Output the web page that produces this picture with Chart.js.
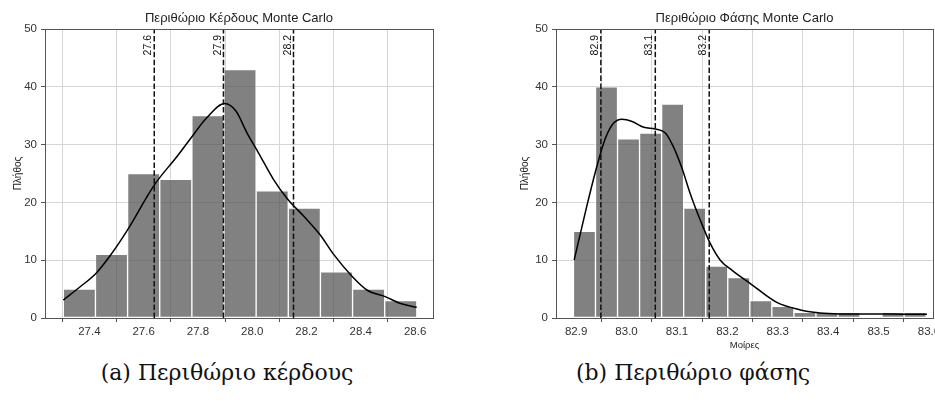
<!DOCTYPE html>
<html>
<head>
<meta charset="utf-8">
<script src="https://cdn.jsdelivr.net/npm/chart.js@4"></script>
<style>
  body { margin: 0; background: #fff; overflow: hidden; }
  #wrap { position: relative; width: 935px; height: 406px; overflow: hidden; }
  canvas { position: absolute; top: 0; }
  .caption { position: absolute; top: 361px; width: 400px; text-align: center;
             font-family: "DejaVu Serif", "Liberation Serif", serif; font-size: 22px; line-height: 24px; color: #111; }
</style>
</head>
<body>
<div id="wrap">
  <canvas id="gainChart" width="470" height="356" style="left:0"></canvas>
  <canvas id="phaseChart" width="490" height="356" style="left:470px"></canvas>
  <div class="caption" style="left:27px">(a) Περιθώριο κέρδους</div>
  <div class="caption" style="left:493px">(b) Περιθώριο φάσης</div>
</div>
<script>
// Περιθώριο κέρδους: ιστόγραμμα 200 δειγμάτων
const gainBinStart = 27.304;
const gainBinWidth = 0.1184;
const gainCounts = [5, 11, 25, 24, 35, 43, 22, 19, 8, 5, 3];
const gainKdeX = [27.304, 27.366, 27.424, 27.483, 27.54, 27.639, 27.722, 27.78, 27.83, 27.898, 27.94, 27.981,
                  28.024, 28.078, 28.13, 28.19, 28.25, 28.30, 28.37, 28.424, 28.49, 28.547, 28.606];
const gainKdeY = [3.1, 5.4, 7.7, 11.2, 15.2, 23.0, 27.9, 31.5, 34.5, 37.1, 35.8, 32.0,
                  28.5, 24.0, 20.6, 17.6, 14.4, 11.0, 7.1, 4.8, 3.7, 2.5, 1.85];
const gainMarkers = [27.639, 27.894, 28.152];
const gainTicks = [27.4, 27.6, 27.8, 28.0, 28.2, 28.4, 28.6];

// Περιθώριο φάσης
const phaseBinStart = 82.8946;
const phaseBinWidth = 0.04374;
const phaseCounts = [15, 40, 31, 32, 37, 19, 9, 7, 3, 2, 1, 1, 1, 0, 1, 1];
const phaseKdeX = [82.896, 82.921, 82.941, 82.958, 82.974, 82.991, 83.011, 83.034, 83.057, 83.077, 83.093,
                   83.110, 83.126, 83.146, 83.166, 83.186, 83.21, 83.245, 83.298, 83.345, 83.371, 83.40,
                   83.45, 83.50, 83.55, 83.596];
const phaseKdeY = [10.0, 19.3, 26.2, 31.1, 33.7, 34.4, 34.0, 33.0, 32.7, 32.0, 29.6,
                   25.9, 21.6, 17.0, 12.9, 10.0, 8.2, 6.0, 2.7, 1.4, 1.0, 0.8,
                   0.7, 0.7, 0.65, 0.65];
const phaseMarkers = [82.949, 83.057, 83.164];
const phaseTicks = [82.9, 83.0, 83.1, 83.2, 83.3, 83.4, 83.5, 83.6];

const countTicks = [0, 10, 20, 30, 40, 50];

const sans = '"Liberation Sans", Arial, sans-serif';
const tickFont = { family: sans, size: 11.5 };

// πλαίσιο γύρω από την περιοχή σχεδίασης
const framePlugin = {
  id: 'frame',
  afterDatasetsDraw(chart) {
    const { ctx, chartArea: a } = chart;
    ctx.save();
    ctx.strokeStyle = '#555';
    ctx.lineWidth = 1;
    ctx.strokeRect(Math.round(a.left) + 0.5, Math.round(a.top) + 0.5,
                   Math.round(a.right - a.left), Math.round(a.bottom - a.top));
    ctx.restore();
  }
};

// ετικέτες τιμών πάνω στις διακεκομμένες γραμμές
const markerLabels = {
  id: 'markerLabels',
  afterDatasetsDraw(chart, args, opts) {
    const { ctx, scales: { x }, chartArea } = chart;
    ctx.save();
    ctx.font = '10.5px ' + sans;
    ctx.fillStyle = '#111';
    ctx.textAlign = 'right';
    ctx.textBaseline = 'bottom';
    opts.values.forEach(v => {
      const px = x.getPixelForValue(v);
      ctx.save();
      ctx.translate(px - 0.5, chartArea.top + 6);
      ctx.rotate(-Math.PI / 2);
      ctx.fillText(v.toFixed(1), 0, 0);
      ctx.restore();
    });
    ctx.restore();
  }
};

function histChart(id, cfg) {
  const bars = cfg.counts.map((c, i) => ({ x: cfg.binStart + (i + 0.5) * cfg.binWidth, y: c }));
  const kde = cfg.kdeX.map((x, i) => ({ x: x, y: cfg.kdeY[i] }));
  const datasets = [
    {
      type: 'bar',
      data: bars,
      backgroundColor: 'rgba(80, 80, 80, 0.72)',
      borderColor: 'rgba(255, 255, 255, 0.8)',
      borderWidth: 1,
      borderSkipped: false,
      barPercentage: 1,
      categoryPercentage: 1,
      order: 3
    },
    {
      type: 'line',
      data: kde,
      borderColor: '#000',
      borderWidth: 1.5,
      pointRadius: 0,
      cubicInterpolationMode: 'monotone',
      fill: false,
      order: 2
    }
  ];
  cfg.markers.forEach(m => {
    datasets.push({
      type: 'line',
      data: [{ x: m, y: 0 }, { x: m, y: 50 }],
      borderColor: '#111',
      borderWidth: 1.5,
      borderDash: [5.5, 2.4],
      pointRadius: 0,
      order: 1
    });
  });

  return new Chart(document.getElementById(id), {
    type: 'bar',
    data: { datasets: datasets },
    options: {
      responsive: false,
      animation: false,
      devicePixelRatio: 1,
      layout: { padding: { left: 0, right: cfg.rightPad, top: 0, bottom: 0 } },
      plugins: {
        legend: { display: false },
        tooltip: { enabled: false },
        title: {
          display: true,
          text: cfg.title,
          fullSize: false,
          color: '#222',
          font: { family: sans, size: 13, weight: 'normal', lineHeight: 1.2 },
          padding: { top: 11, bottom: 2.4 }
        },
        markerLabels: { values: cfg.markers }
      },
      scales: {
        x: {
          type: 'linear',
          offset: false,
          min: cfg.xMin,
          max: cfg.xMax,
          afterFit: s => { s.height = 38; },
          afterBuildTicks: s => { s.ticks = cfg.ticks.map(v => ({ value: v })); },
          ticks: { font: tickFont, color: '#333', padding: 3, maxRotation: 0,
                   callback: v => v.toFixed(1) },
          grid: { color: '#d6d6d6', tickColor: '#555', tickLength: 4 },
          border: { display: false },
          title: {
            display: !!cfg.xTitle,
            text: cfg.xTitle || '',
            color: '#222',
            font: { family: sans, size: 9.5, lineHeight: 1.2 },
            padding: { top: 0, bottom: 5.3 }
          }
        },
        y: {
          type: 'linear',
          min: 0,
          max: 50,
          afterFit: s => { s.width = cfg.yWidth; },
          afterBuildTicks: s => { s.ticks = countTicks.map(v => ({ value: v })); },
          ticks: { font: tickFont, color: '#333', padding: 4 },
          grid: { color: '#d6d6d6', tickColor: '#555', tickLength: 4 },
          border: { display: false },
          title: {
            display: true,
            text: 'Πλήθος',
            color: '#222',
            font: { family: sans, size: 10, lineHeight: 1.2 },
            padding: { top: cfg.yTitlePad, bottom: 0 }
          }
        }
      }
    },
    plugins: [framePlugin, markerLabels]
  });
}

histChart('gainChart', {
  title: 'Περιθώριο Κέρδους Monte Carlo',
  binStart: gainBinStart, binWidth: gainBinWidth, counts: gainCounts,
  kdeX: gainKdeX, kdeY: gainKdeY, markers: gainMarkers, ticks: gainTicks,
  xMin: 27.2365, xMax: 28.666,
  yWidth: 45, yTitlePad: 12, rightPad: 37
});

histChart('phaseChart', {
  title: 'Περιθώριο Φάσης Monte Carlo',
  binStart: phaseBinStart, binWidth: phaseBinWidth, counts: phaseCounts,
  kdeX: phaseKdeX, kdeY: phaseKdeY, markers: phaseMarkers, ticks: phaseTicks,
  xMin: 82.860, xMax: 83.608, xTitle: 'Μοίρες',
  yWidth: 86, yTitlePad: 49, rightPad: 27
});
</script>
</body>
</html>
